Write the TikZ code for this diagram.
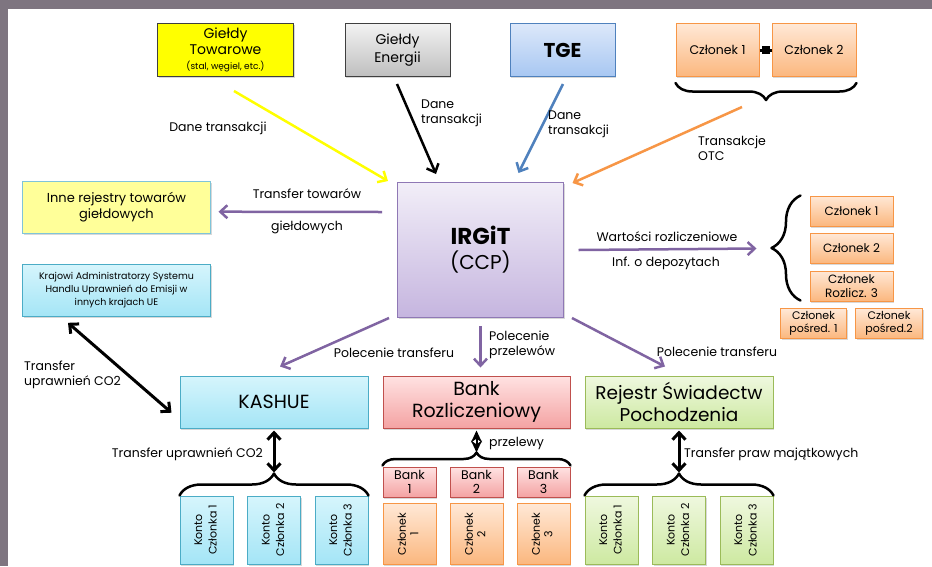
\documentclass[tikz,border=0pt]{standalone}
\usepackage{fontspec}
\setmainfont{Poppins}
\usetikzlibrary{arrows.meta,decorations.pathreplacing,shadows,calc}
\definecolor{framegrey}{HTML}{7E7580}
\definecolor{gdark}{HTML}{3F3F3F}
\definecolor{gyel}{HTML}{FFFF00}
\definecolor{greytop}{HTML}{F2F2F2}
\definecolor{greybot}{HTML}{BFBFBF}
\definecolor{tgetop}{HTML}{DCE8FA}
\definecolor{tgebot}{HTML}{A7C7F2}
\definecolor{tgeborder}{HTML}{4F81BD}
\definecolor{ortop}{HTML}{FFE8D6}
\definecolor{orbot}{HTML}{FBB77E}
\definecolor{orborder}{HTML}{F79646}
\definecolor{irtop}{HTML}{F2EEF8}
\definecolor{irbot}{HTML}{C5B5DF}
\definecolor{irborder}{HTML}{8F78B5}
\definecolor{inneyel}{HTML}{FFFF99}
\definecolor{inneborder}{HTML}{7FC4D9}
\definecolor{cytop}{HTML}{D6F5FC}
\definecolor{cybot}{HTML}{A4E5F6}
\definecolor{cyborder}{HTML}{4BACC6}
\definecolor{pktop}{HTML}{FFE2E2}
\definecolor{pkbot}{HTML}{F4A3A3}
\definecolor{pkborder}{HTML}{C0504D}
\definecolor{grtop}{HTML}{EFF8DF}
\definecolor{grbot}{HTML}{CDE9A1}
\definecolor{grborder}{HTML}{9BBB59}
\definecolor{purp}{HTML}{8064A2}
\definecolor{ablue}{HTML}{4F81BD}
\definecolor{aorange}{HTML}{F79646}
\newcommand{\fs}[2]{\fontsize{#1pt}{#2pt}\selectfont}
\begin{document}
\begin{tikzpicture}[x=1pt,y=-1pt,
  box/.style={draw, line width=1pt, inner sep=1pt, align=center, text=black,
    drop shadow={shadow xshift=1pt, shadow yshift=-1.5pt, opacity=.3}},
  gbox/.style={box, fill=gyel, draw=gdark},
  greybox/.style={box, top color=greytop, bottom color=greybot, draw=gdark},
  tgebox/.style={box, top color=tgetop, bottom color=tgebot, draw=tgeborder},
  orbox/.style={box, top color=ortop, bottom color=orbot, draw=orborder},
  irbox/.style={box, top color=irtop, bottom color=irbot, draw=irborder},
  innebox/.style={box, fill=inneyel, draw=inneborder},
  cybox/.style={box, top color=cytop, bottom color=cybot, draw=cyborder},
  pkbox/.style={box, top color=pktop, bottom color=pkbot, draw=pkborder},
  grnbox/.style={box, top color=grtop, bottom color=grbot, draw=grborder},
  lbl/.style={inner sep=0pt, align=center, font=\fs{12.5}{15}},
  arr/.style={line width=2.5pt, -{Straight Barb[length=7pt,width=13pt]}},
  darr/.style={line width=3pt, {Straight Barb[length=7pt,width=13pt]}-{Straight Barb[length=7pt,width=13pt]}},
  bracestyle/.style={line width=2.5pt, line cap=round, line join=round, decorate},
  sq/.style={fill=black, minimum size=8pt, inner sep=0pt}
]
\fill[framegrey] (0,0) rectangle (932,566);
\fill[white] (8,9) rectangle (932,566);
\useasboundingbox (0,0) rectangle (932,566);

% top row
\node[gbox, minimum width=136pt, minimum height=53pt, font=\fs{14}{16}] (gt) at (225.5,50) {Giełdy\\Towarowe\\[-1pt]{\fs{9}{10}(stal, węgiel, etc.)}};
\node[greybox, minimum width=105pt, minimum height=53pt, font=\fs{14}{18}] (ge) at (397.5,50) {Giełdy\\Energii};
\node[tgebox, minimum width=105pt, minimum height=53pt, font=\fs{20}{24}\bfseries] (tge) at (562.5,50) {TGE};
\node[orbox, minimum width=83pt, minimum height=53pt, font=\fs{12.5}{14}] (c1) at (717.5,50) {Członek 1};
\node[orbox, minimum width=84pt, minimum height=53pt, font=\fs{12.5}{14}] (c2) at (814,50) {Członek 2};
\draw[line width=3pt] (c1.east) -- node[sq]{} (c2.west);
\draw[bracestyle, decoration={brace, amplitude=17pt}] ($(c2.south east)+(0,6)$) -- ($(c1.south west)+(0,6)$);
\coordinate (otctip) at ($(c1.south west)!0.5!(c2.south east)+(0,23)$);

% IRGiT
\node[irbox, minimum width=166pt, minimum height=135pt, font=\fs{20}{25}] (irgit) at (480.5,250) {{\fs{23}{25}\bfseries IRGiT}\\(CCP)};

% left boxes
\node[innebox, minimum width=188pt, minimum height=52pt, font=\fs{13}{16}] (inne) at (116.5,207) {Inne rejestry towarów\\giełdowych};
\node[cybox, minimum width=188pt, minimum height=52pt, font=\fs{9.5}{12.7}] (kraj) at (116.5,290) {Krajowi Administratorzy Systemu\\Handlu Uprawnień do Emisji w\\innych krajach UE};

% right members
\node[orbox, minimum width=83pt, minimum height=30pt, font=\fs{12}{14}] (m1) at (851.5,211) {Członek 1};
\node[orbox, minimum width=83pt, minimum height=30pt, font=\fs{12}{14}] (m2) at (851.5,248.5) {Członek 2};
\node[orbox, minimum width=83pt, minimum height=30pt, font=\fs{12}{14}] (m3) at (851.5,286) {Członek\\Rozlicz. 3};
\node[orbox, minimum width=66pt, minimum height=30pt, font=\fs{11}{13}] (p1) at (813.5,323.5) {Członek\\pośred. 1};
\node[orbox, minimum width=67pt, minimum height=30pt, font=\fs{11}{13}] (p2) at (889,323.5) {Członek\\pośred.2};
\draw[bracestyle, decoration={brace, amplitude=29pt}] ($(m3.south west)+(-9,-1)$) -- ($(m1.north west)+(-9,0)$);
\coordinate (mtip) at ($(m1.north west)!0.5!(m3.south west)+(-38,0)$);

% bottom main boxes
\node[cybox, minimum width=188pt, minimum height=52pt, font=\fs{19}{22}] (kashue) at (274,402) {KASHUE};
\node[pkbox, minimum width=187pt, minimum height=52pt, font=\fs{19}{22}] (bank) at (476.5,402) {Bank\\Rozliczeniowy};
\node[grnbox, minimum width=188pt, minimum height=52pt, font=\fs{18.5}{22}] (rej) at (679,402) {Rejestr Świadectw\\Pochodzenia};

% KASHUE accounts
\foreach \i/\x in {1/206.5,2/274,3/341.5}{
  \node[cybox, minimum width=53pt, minimum height=68pt] (k\i) at (\x,530) {\rotatebox{90}{\fs{11}{14.5}\begin{tabular}{@{}c@{}}Konto\\Członka \i\end{tabular}}};
}
% Rejestr accounts
\foreach \i/\x in {1/611.5,2/679,3/746.5}{
  \node[grnbox, minimum width=53pt, minimum height=68pt] (r\i) at (\x,530) {\rotatebox{90}{\fs{11}{14.5}\begin{tabular}{@{}c@{}}Konto\\Członka \i\end{tabular}}};
}
% Banks and members
\foreach \i/\x in {1/409.5,2/476.5,3/543.5}{
  \node[pkbox, minimum width=53pt, minimum height=30pt, font=\fs{12.5}{14}] (b\i) at (\x,482) {Bank\\\i};
  \node[orbox, minimum width=53pt, minimum height=61pt] (z\i) at (\x,534) {\rotatebox{90}{\fs{11}{12.5}\begin{tabular}{@{}c@{}}Członek\\\i\end{tabular}}};
}

% bottom braces
\draw[bracestyle, decoration={brace, amplitude=22pt}] (k1.north west) -- (k3.north east);
\coordinate (ktip) at ($(k1.north west)!0.5!(k3.north east)+(0,-23)$);
\draw[bracestyle, decoration={brace, amplitude=22pt}] (r1.north west) -- (r3.north east);
\coordinate (rtip) at ($(r1.north west)!0.5!(r3.north east)+(0,-23)$);
\draw[bracestyle, decoration={brace, amplitude=13pt}] ($(b1.north west)+(0,-1)$) -- ($(b3.north east)+(0,-1)$);
\coordinate (btip) at ($(b1.north west)!0.5!(b3.north east)+(0,-14)$);

% top arrows into IRGiT
\coordinate (yt) at ($(gt.south)+(8.5,14)$);
\coordinate (bt) at ($(ge.south)+(-0.5,7)$);
\coordinate (tt) at ($(tge.south)+(0.5,7)$);
\coordinate (ot) at ($(otctip)+(-24,7)$);
\draw[arr, draw=gyel] (yt) -- ($(irgit.north west)+(-9,-1)$);
\draw[arr, draw=black] (bt) -- ($(irgit.north)+(-44.5,-8)$);
\draw[arr, draw=ablue] (tt) -- ($(irgit.north)+(38,-9)$);
\draw[arr, draw=aorange] (ot) -- ($(irgit.north east)+(8.5,1)$);

% purple arrows
\draw[arr, draw=purp] ($(irgit.north west)+(-15,30)$) -- ($(inne.east)+(7.5,4.7)$);
\draw[arr, draw=purp] ($(irgit.east)+(14.5,0)$) -- ($(mtip)+(-15,0)$);
\draw[arr, draw=purp] ($(irgit.south west)+(-8,0)$) -- ($(kashue.north)+(6,-9)$);
\draw[arr, draw=purp] ($(irgit.south)+(0,8)$) -- ($(bank.north)+(4,-8)$);
\draw[arr, draw=purp] ($(irgit.south east)+(8,0)$) -- ($(rej.north)+(-14,-9)$);

% black double arrows
\draw[darr] ($(kraj.south)+(-48.5,6.3)$) -- ($(kashue.west)+(-8,10.7)$);
\draw[darr] ($(kashue.south)+(0,2)$) -- (ktip);
\draw[darr] ($(rej.south)+(0,2)$) -- (rtip);
\draw[line width=2pt, {Stealth[length=12pt,width=11pt]}-{Stealth[length=12pt,width=11pt]}] ($(bank.south)+(0,2)$) -- (btip);

% labels
\node[lbl] (l1) at (218,128) {Dane transakcji};
\node[lbl, anchor=west, align=left] (l2) at (421,113) {Dane\\transakcji};
\node[lbl, anchor=west, align=left] (l3) at (548,124) {Dane\\transakcji};
\node[lbl, anchor=west, align=left] (l4) at (698,148) {Transakcje\\OTC};
\node[lbl] (l5) at (307,194) {Transfer towarów};
\node[lbl] (l6) at (307,227) {giełdowych};
\node[lbl] (l7) at (667,237) {Wartości rozliczeniowe};
\node[lbl] (l8) at (666,263) {Inf. o depozytach};
\node[lbl, anchor=west, align=left] (l9) at (24,375) {Transfer\\uprawnień CO2};
\node[lbl] (l10) at (394,353) {Polecenie transferu};
\node[lbl, anchor=west, align=left] (l11) at (489,345) {Polecenie\\przelewów};
\node[lbl] (l12) at (717,352) {Polecenie transferu};
\node[lbl, anchor=east] (l13) at (263,454) {Transfer uprawnień CO2};
\node[lbl, anchor=west] (l14) at (489,443) {przelewy};
\node[lbl, anchor=west] (l15) at (684,454) {Transfer praw majątkowych};
\end{tikzpicture}
\end{document}
